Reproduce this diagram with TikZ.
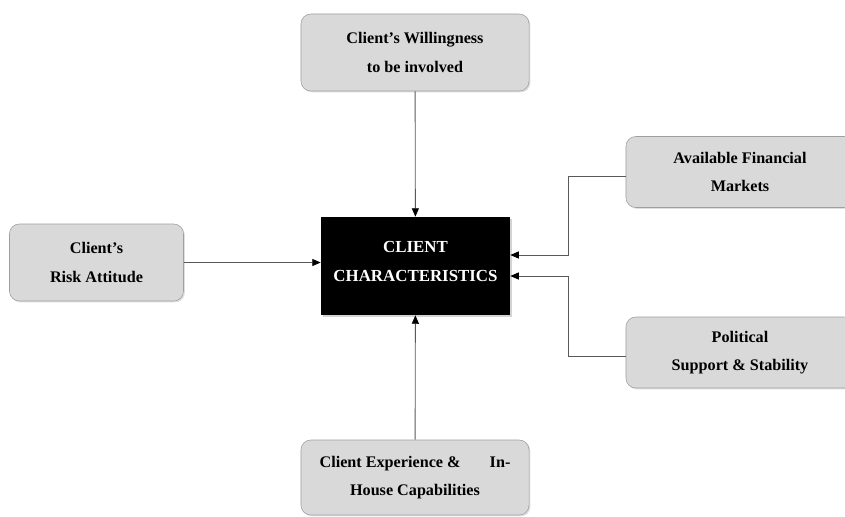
\documentclass[tikz,border=0pt]{standalone}
\usepackage{fontspec}
\setmainfont{Liberation Serif}
\usetikzlibrary{arrows.meta}
\usetikzlibrary{shadows}

\begin{document}
\begin{tikzpicture}[x=0.025cm, y=-0.025cm]
	\useasboundingbox (0,0) rectangle (845,516);
	\begin{scope}[every node/.style = {draw=gray!75, fill=gray!30, rounded corners=7pt,
			align=center, inner sep=0pt, font=\fontsize{11.5}{20}\selectfont\bfseries,
			drop shadow={opacity=0.25, shadow xshift=1pt, shadow yshift=-1pt}}]
		\node[minimum width=5.7cm, minimum height=1.925cm] (will) at (415,52.5) {Client's Willingness\\to be involved};
		\node[minimum width=4.35cm, minimum height=1.925cm] (risk) at (96.5,262.5) {Client's\\Risk Attitude};
		\node[minimum width=5.7cm, minimum height=1.875cm] (exp) at (415,477.5) {Client Experience \& \hspace{1.3em} In-\\House Capabilities};
		\node[minimum width=5.7cm, minimum height=1.775cm] (fin) at (740,172) {Available Financial\\Markets};
		\node[minimum width=5.7cm, minimum height=1.775cm] (pol) at (740,352.5) {Political\\Support \& Stability};
	\end{scope}
	\node[fill=black, text=white, align=center, inner sep=0pt,
		minimum width=4.725cm, minimum height=2.45cm,
		font=\fontsize{12}{20.5}\selectfont\bfseries,
		drop shadow={opacity=0.35, shadow xshift=1.5pt, shadow yshift=-1.5pt}]
		(cc) at (415.5,266) {CLIENT\\CHARACTERISTICS\rule[-1.2ex]{0pt}{0pt}};
	\coordinate (k1) at (568,255);
	\coordinate (k2) at (568,276);
	\begin{scope}[>={Triangle[black, length=6pt, width=5pt]},
			every path/.style={draw=black!65, line width=0.6pt}]
		\draw [->] (will) -- (cc);
		\draw [->] (exp) -- (cc);
		\draw [->] (risk) -- (risk -| cc.west);
		\draw [->] (fin.west |- 0,176) -| (k1) -- (k1 -| cc.east);
		\draw [->] (pol.west |- 0,356) -| (k2) -- (k2 -| cc.east);
	\end{scope}
\end{tikzpicture}
\end{document}
